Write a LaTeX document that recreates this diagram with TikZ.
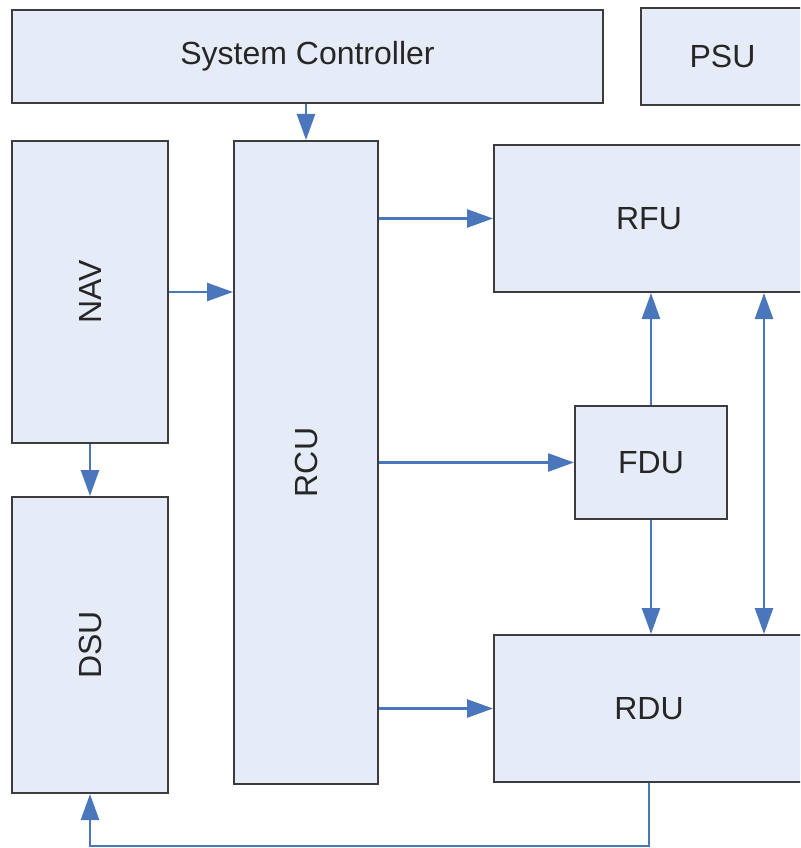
\documentclass[tikz,border=0pt]{standalone}
\usepackage{fontspec}
\setmainfont{Liberation Sans}
\usepackage{graphicx}
\usetikzlibrary{arrows.meta}
\definecolor{boxfill}{HTML}{E6ECF7}
\definecolor{boxline}{HTML}{3C3C3C}
\definecolor{arrowblue}{HTML}{4A77BB}
\begin{document}
\begin{tikzpicture}[x=1pt,y=-1pt,
  blk/.style={draw=boxline, line width=2pt, fill=boxfill, inner sep=0pt,
    font=\fontsize{32}{38}\selectfont, text=black!85},
  conn/.style={draw=arrowblue, line width=2.5pt, -{Triangle[length=26pt,width=18pt]}},
  dconn/.style={draw=arrowblue, line width=2.5pt, {Triangle[length=26pt,width=18pt]}-{Triangle[length=26pt,width=18pt]}}]
\useasboundingbox (0,0) rectangle (800,848);
\clip (0,0) rectangle (800,848);
\fill[white] (0,0) rectangle (800,848);
% blocks
\node[blk, minimum width=591pt, minimum height=93pt] (sc) at (307.5,56.5) {System Controller};
\node[blk, minimum width=163pt, minimum height=97pt] (psu) at (722.5,56.5) {PSU};
\node[blk, minimum width=156pt, minimum height=302pt] (nav) at (90,292) {\rotatebox{90}{NAV}};
\node[blk, minimum width=156pt, minimum height=296pt] (dsu) at (90,645) {\rotatebox{90}{DSU}};
\node[blk, minimum width=144pt, minimum height=643pt] (rcu) at (306,462.5) {\rotatebox{90}{RCU}};
\node[blk, minimum width=310pt, minimum height=147pt] (rfu) at (649,218.5) {RFU};
\node[blk, minimum width=152pt, minimum height=113pt] (fdu) at (651,462.5) {FDU};
\node[blk, minimum width=310pt, minimum height=147pt] (rdu) at (649,708.5) {RDU};
% connectors
\draw[conn] (rcu.north |- sc.south) -- (rcu.north);
\draw[conn] (nav.east) -- (nav.east -| rcu.west);
\draw[conn] (nav.south) -- (dsu.north);
\draw[conn] (rfu.west -| rcu.east) -- (rfu.west);
\draw[conn] (fdu.west -| rcu.east) -- (fdu.west);
\draw[conn] (rdu.west -| rcu.east) -- (rdu.west);
\draw[conn] (fdu.north) -- (fdu.north |- rfu.south);
\draw[conn] (fdu.south) -- (fdu.south |- rdu.north);
\coordinate (vline) at (764,0);
\draw[dconn] (vline |- rfu.south) -- (vline |- rdu.north);
\coordinate (bline) at (0,846);
\draw[conn] (rdu.south) -- (rdu.south |- bline) -| (dsu.south);
\end{tikzpicture}
\end{document}
